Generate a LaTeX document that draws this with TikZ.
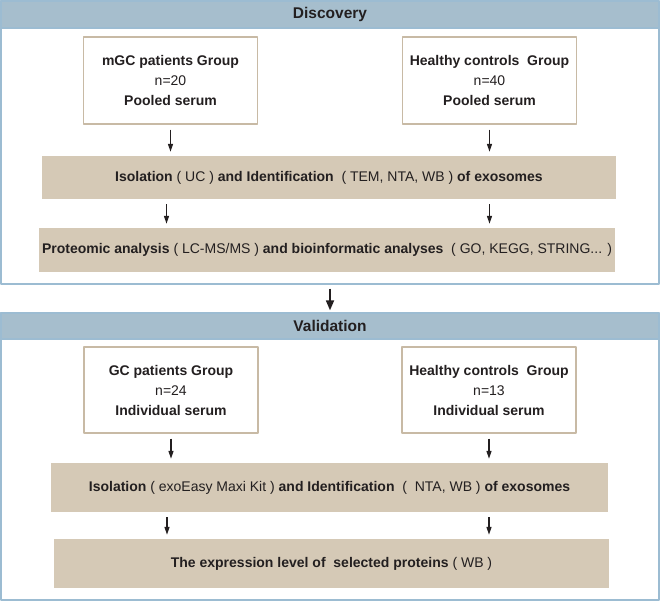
\documentclass[tikz,border=0pt]{standalone}
\usepackage{fontspec}
\setmainfont{Liberation Sans}
\usetikzlibrary{arrows.meta,positioning}

\definecolor{hdrblue}{RGB}{166,190,205}
\definecolor{frameblue}{RGB}{156,188,210}
\definecolor{bartan}{RGB}{213,201,182}
\definecolor{boxtan}{RGB}{200,186,165}
\definecolor{ink}{RGB}{35,31,32}

\tikzset{
  frame/.style={draw=frameblue, line width=1.3pt, minimum width=658pt, inner sep=0pt},
  header/.style={fill=hdrblue, draw=frameblue, line width=1.3pt, minimum width=658pt,
    font=\fontsize{15.5}{18}\selectfont\bfseries, text=ink},
  group/.style={draw=boxtan, line width=1.3pt, fill=white, minimum width=174pt,
    minimum height=87pt, align=center, font=\fontsize{14}{20}\selectfont, text=ink},
  bar/.style={fill=bartan, font=\fontsize{14}{17}\selectfont, text=ink},
  arr/.style={-{Triangle[length=8pt,width=5pt]}, line width=1.3pt, draw=ink,
    shorten <=5pt, shorten >=4pt},
  bigarr/.style={-{Triangle[length=10pt,width=8pt]}, line width=1.7pt, draw=ink,
    shorten <=4pt, shorten >=2pt}
}

\begin{document}
\begin{tikzpicture}[x=1pt, y=-1pt, line join=round]
  \useasboundingbox (0,0) rectangle (661,602);

  % discovery
  \node[frame, minimum height=283pt] (discframe) at (330,142.5) {};
  \node[header, minimum height=27pt, anchor=north] (dischead) at (discframe.north) {Discovery};
  \node[group] (mgc) at (170.5,80.5) {\textbf{mGC patients Group}\\n=20\\\textbf{Pooled serum}};
  \node[group] (hcpool) at (489.5,80.5) {\textbf{Healthy controls\ \ Group}\\n=40\\\textbf{Pooled serum}};
  \node[bar, minimum width=574pt, minimum height=43pt] (isouc) at (329,177.5)
    {\textbf{Isolation} ( UC ) \textbf{and Identification}\ \ ( TEM, NTA, WB ) \textbf{of exosomes}};
  \node[bar, minimum width=574pt, minimum height=44pt] (prot) at (327,250)
    {\textbf{Proteomic analysis} ( LC-MS/MS ) \textbf{and bioinformatic analyses}\ \ ( GO, KEGG, STRING... )};

  \coordinate (lft) at ([xshift=-4pt]mgc.south);
  \draw[arr] (mgc.south) -- (mgc.south |- isouc.north);
  \draw[arr] (hcpool.south) -- (hcpool.south |- isouc.north);
  \draw[arr] (isouc.south -| lft) -- (prot.north -| lft);
  \draw[arr] (isouc.south -| hcpool.south) -- (prot.north -| hcpool.south);

  % validation
  \node[frame, minimum height=287pt] (valframe) at (330,456.5) {};
  \node[header, minimum height=26pt, anchor=north] (valhead) at (valframe.north) {Validation};
  \node[group, minimum height=86pt] (gc) at (171,390) {\textbf{GC patients Group}\\n=24\\\textbf{Individual serum}};
  \node[group, minimum height=86pt] (hcind) at (489,390) {\textbf{Healthy controls\ \ Group}\\n=13\\\textbf{Individual serum}};
  \node[bar, minimum width=557pt, minimum height=49pt] (isokit) at (329.5,487.5)
    {\textbf{Isolation} ( exoEasy Maxi Kit ) \textbf{and Identification}\ \ (\ \ NTA, WB ) \textbf{of exosomes}};
  \node[bar, minimum width=555pt, minimum height=49pt] (expr) at (331.5,563.5)
    {\textbf{The expression level of\ \ selected proteins} ( WB )};

  \coordinate (lftv) at ([xshift=-4pt]gc.south);
  \draw[arr] (gc.south) -- (gc.south |- isokit.north);
  \draw[arr] (hcind.south) -- (hcind.south |- isokit.north);
  \draw[arr] (isokit.south -| lftv) -- (expr.north -| lftv);
  \draw[arr] (isokit.south -| hcind.south) -- (expr.north -| hcind.south);

  \draw[bigarr] (discframe.south) -- (valframe.north);
\end{tikzpicture}
\end{document}
